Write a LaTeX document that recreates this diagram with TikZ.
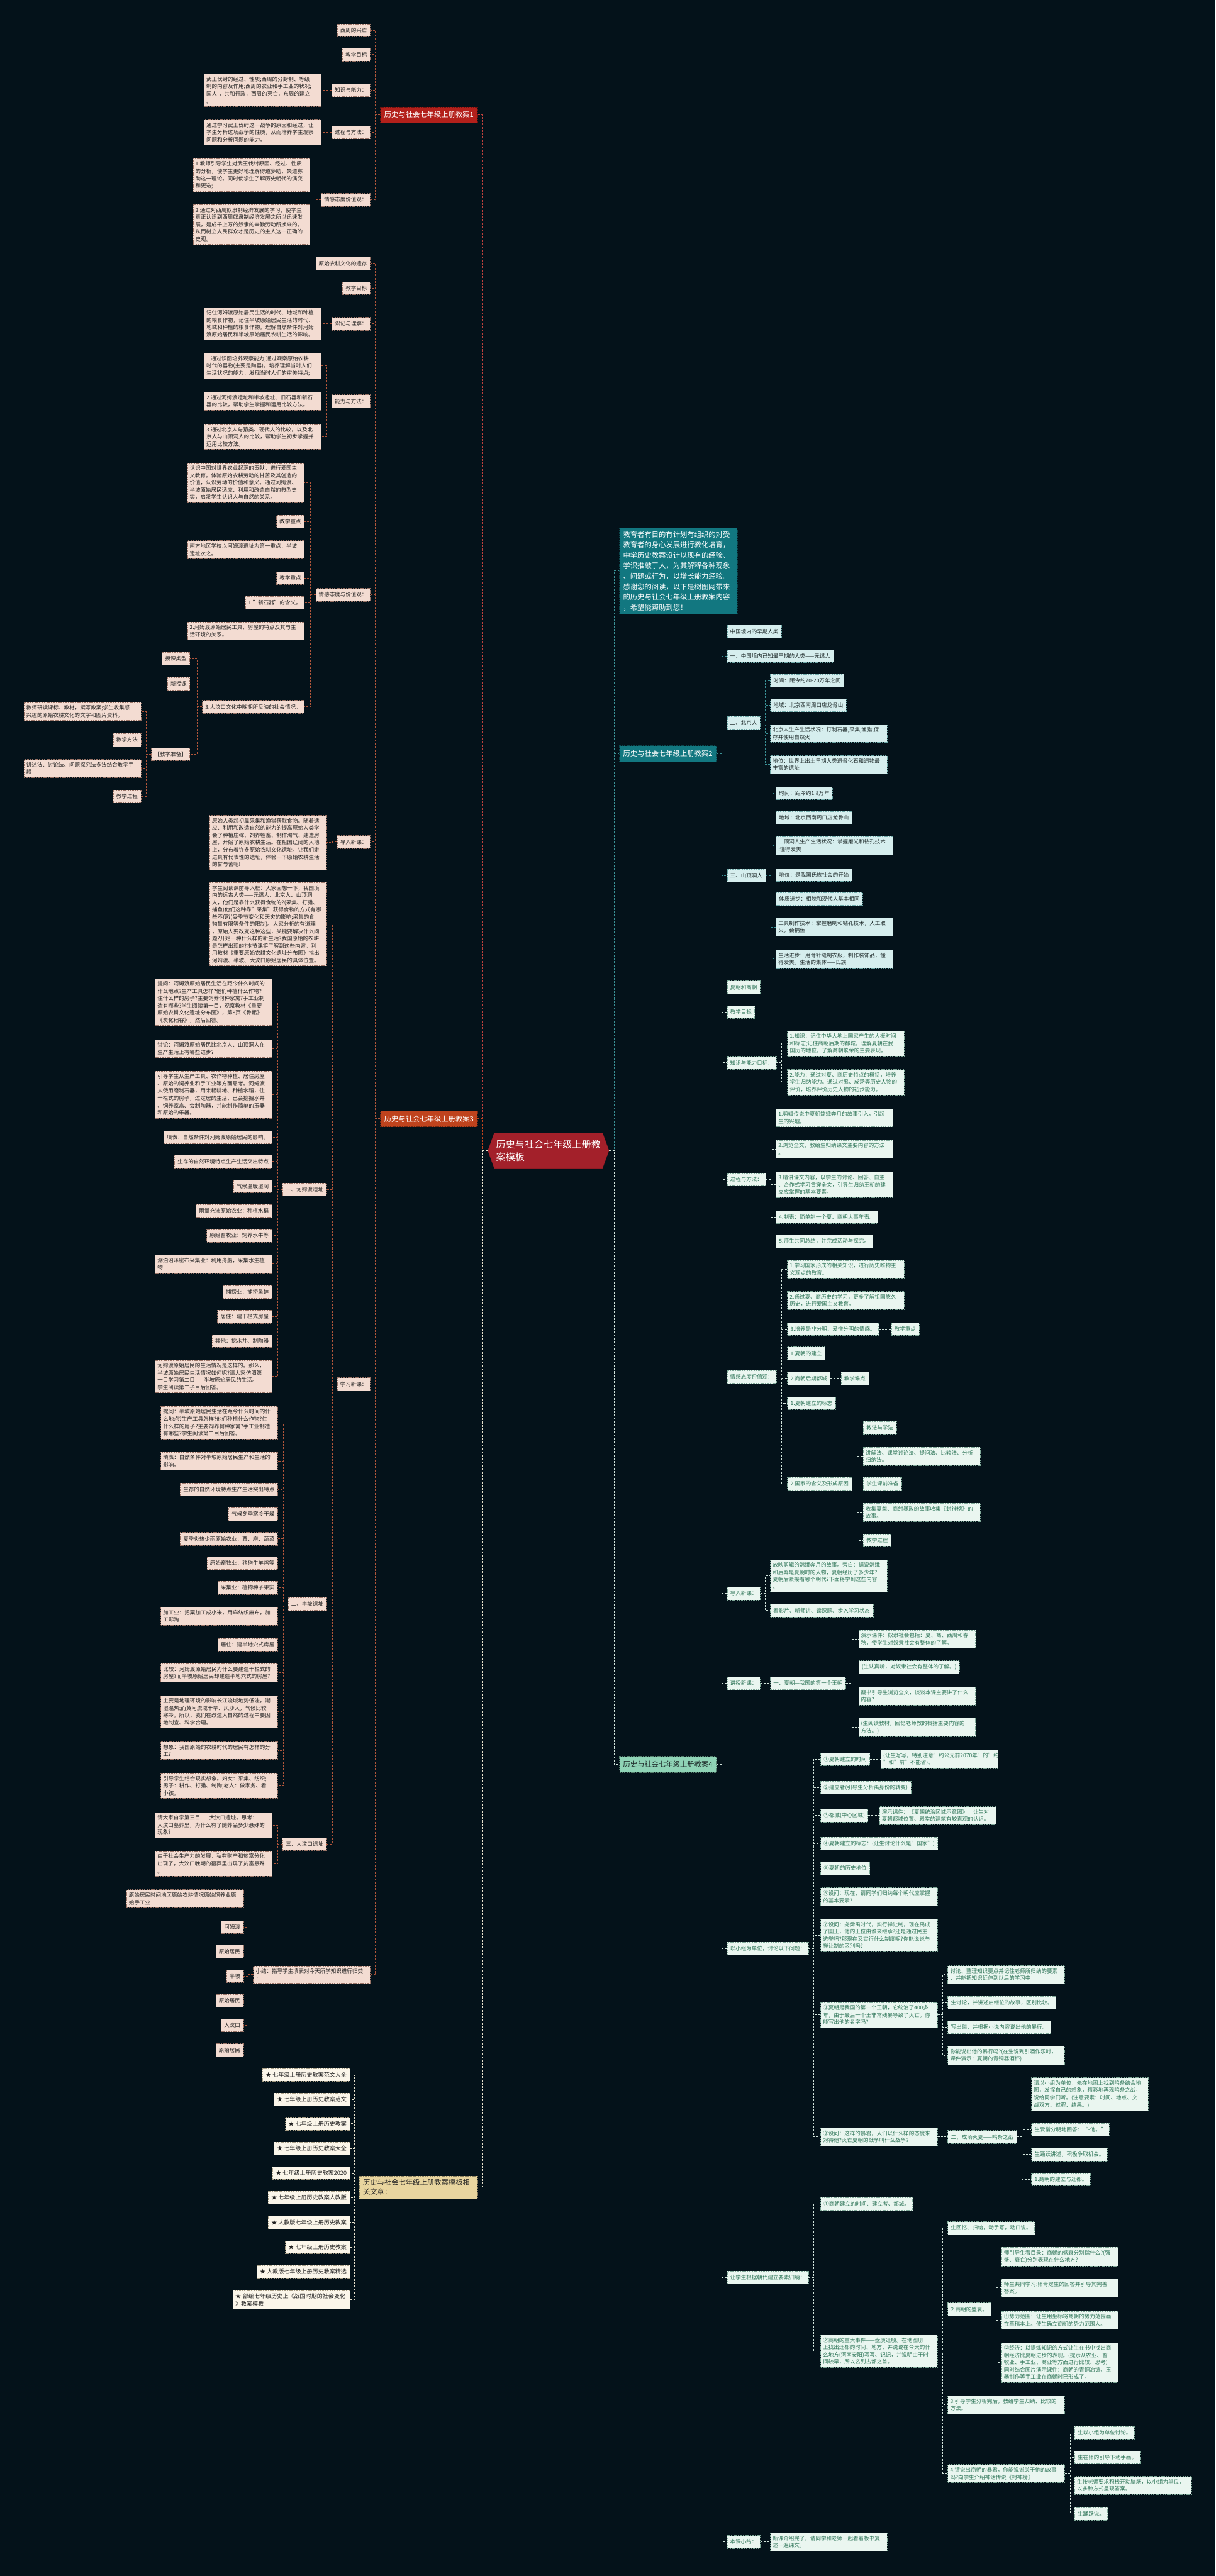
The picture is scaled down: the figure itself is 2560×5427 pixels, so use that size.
\documentclass[tikz,border=0pt]{standalone}
\usepackage{fontspec}
\setmainfont{Noto Sans CJK SC}
\usetikzlibrary{shapes.symbols}
\definecolor{bg}{HTML}{04121A}
\definecolor{lfill}{HTML}{F3DCD2}
\definecolor{lline}{HTML}{9A7467}
\definecolor{ltxt}{HTML}{222222}
\definecolor{lconn}{HTML}{B0553A}
\definecolor{redA}{HTML}{B3201B}
\definecolor{redB}{HTML}{BF431D}
\definecolor{ctr}{HTML}{A3202A}
\definecolor{tealA}{HTML}{127780}
\definecolor{tfill}{HTML}{D6EEEE}
\definecolor{tline}{HTML}{6FA9A9}
\definecolor{ttxt}{HTML}{1E2A2A}
\definecolor{tconn}{HTML}{3B9196}
\definecolor{mintA}{HTML}{8FD3B6}
\definecolor{gfill}{HTML}{EAF6F0}
\definecolor{gline}{HTML}{7FA898}
\definecolor{gtext}{HTML}{2E7558}
\definecolor{gconn}{HTML}{D0E2DA}
\definecolor{khaki}{HTML}{E8D59F}
\definecolor{cream}{HTML}{FBF6EA}
\definecolor{cline}{HTML}{A89E86}
\definecolor{wconn}{HTML}{E6E0CC}
\tikzset{
  base/.style={font=\fontsize{11.3}{15.3}\selectfont, inner xsep=6.5pt, inner ysep=6pt, minimum height=27pt, align=left, line width=0.8pt, dash pattern=on 3pt off 2pt},
  L/.style={base, fill=lfill, draw=lline, text=ltxt, anchor=east},
  T/.style={base, fill=tfill, draw=tline, text=ttxt, anchor=west},
  G/.style={base, fill=gfill, draw=gline, text=gtext, anchor=west},
  C/.style={base, font=\fontsize{12}{16}\selectfont, fill=cream, draw=cline, text=ltxt, anchor=east},
  W/.style={text width=236pt, inner xsep=5pt},
  lvl/.style={font=\fontsize{15}{20}\selectfont, inner xsep=8pt, inner ysep=7pt, minimum height=34pt, align=left, line width=0.8pt, dash pattern=on 3pt off 2pt},
  cL/.style={draw=lconn, line width=1.3pt, dash pattern=on 4pt off 3pt},
  cR1/.style={draw=redA!85!white, line width=1.3pt, dash pattern=on 4pt off 3pt},
  cR3/.style={draw=redB, line width=1.3pt, dash pattern=on 4pt off 3pt},
  cW/.style={draw=wconn, line width=1.3pt, dash pattern=on 4pt off 3pt},
  cT/.style={draw=tconn, line width=1.3pt, dash pattern=on 4pt off 3pt},
  cG/.style={draw=gconn, line width=1.3pt, dash pattern=on 4pt off 3pt},
}
\newcommand{\brL}[3]{\foreach \kid in {#3}{\draw[#1] (#2.west) -- ++(-10,0) |- (\kid.east);}}
\newcommand{\brR}[3]{\foreach \kid in {#3}{\draw[#1] (#2.east) -- ++(11,0) |- (\kid.west);}}
\begin{document}
\begin{tikzpicture}[x=1pt,y=-1pt]
\fill[bg] (0,0) rectangle (2560,5427);
\useasboundingbox (0,0) rectangle (2560,5427);

% ===== center =====
\node[signal, signal to=west and east, signal pointer angle=140, fill=ctr, draw=ctr!70!black, text=white, font=\fontsize{20}{26}\selectfont, align=left, minimum height=75pt, inner xsep=4pt] (cn) at (1155,2424) {历史与社会七年级上册教\\案模板};

% ===== 教案1 =====
\node[lvl, fill=redA, draw=redA!60!black, text=white, anchor=east] (k1) at (1006,242) {历史与社会七年级上册教案1};
\node[L] (a1) at (780,64) {西周的兴亡};
\node[L] (a2) at (780,115) {教学目标};
\node[L] (a3) at (780,190) {知识与能力：};
\node[L,W] (a3l) at (676,190) {武王伐纣的经过、性质;西周的分封制、等级\\制的内容及作用;西周的农业和手工业的状况;\\国人-，共和行政，西周的灭亡，东周的建立\\。};
\node[L] (a4) at (780,279) {过程与方法：};
\node[L,W] (a4l) at (676,279) {通过学习武王伐纣这一战争的原因和经过，让\\学生分析这场战争的性质，从而培养学生观察\\问题和分析问题的能力。};
\node[L] (a5) at (780,421) {情感态度价值观：};
\node[L,W] (a5x) at (653,369) {1.教师引导学生对武王伐纣原因、经过、性质\\的分析，使学生更好地理解得道多助，失道寡\\助这一理论。同时使学生了解历史朝代的演变\\和更迭;};
\node[L,W] (a5y) at (653,473) {2.通过对西周奴隶制经济发展的学习，使学生\\真正认识到西周奴隶制经济发展之所以迅速发\\展，是成千上万的奴隶的辛勤劳动所换来的。\\从而树立人民群众才是历史的主人这一正确的\\史观。};

% ===== 教案3 =====
\node[lvl, fill=redB, draw=redB!60!black, text=white, anchor=east] (k3) at (1006,2357) {历史与社会七年级上册教案3};
\node[L] (b1) at (780,555) {原始农耕文化的遗存};
\node[L] (b2) at (780,607) {教学目标};
\node[L] (b3) at (780,682) {识记与理解：};
\node[L,W] (b3l) at (676,682) {记住河姆渡原始居民生活的时代、地域和种植\\的粮食作物，记住半坡原始居民生活的时代、\\地域和种植的粮食作物。理解自然条件对河姆\\渡原始居民和半坡原始居民农耕生活的影响。};
\node[L] (b4) at (780,845) {能力与方法：};
\node[L,W] (b4x) at (676,771) {1.通过识图培养观察能力;通过观察原始农耕\\时代的器物(主要是陶器)，培养理解当时人们\\生活状况的能力，发现当时人们的审美特点;};
\node[L,W] (b4y) at (676,845) {2.通过河姆渡遗址和半坡遗址、旧石器和新石\\器的比较，帮助学生掌握和运用比较方法。};
\node[L,W] (b4z) at (676,920) {3.通过北京人与猿类、现代人的比较，以及北\\京人与山顶洞人的比较，帮助学生初步掌握并\\运用比较方法。};
\node[L] (b5) at (780,1253) {情感态度与价值观：};
\node[L,W] (b5c1) at (641,1017) {认识中国对世界农业起源的贡献，进行爱国主\\义教育。体验原始农耕劳动的甘苦及其创造的\\价值，认识劳动的价值和意义。通过河姆渡、\\半坡原始居民适应、利用和改造自然的典型史\\实，启发学生认识人与自然的关系。};
\node[L] (b5c2) at (641,1099) {教学重点};
\node[L,W] (b5c3) at (641,1158) {南方地区学校以河姆渡遗址为第一重点，半坡\\遗址次之。};
\node[L] (b5c4) at (641,1218) {教学重点};
\node[L] (b5c5) at (641,1270) {1."新石器"的含义。};
\node[L,W] (b5c6) at (641,1329) {2.河姆渡原始居民工具、房屋的特点及其与生\\活环境的关系。};
\node[L] (b5c7) at (641,1489) {3.大汶口文化中晚期所反映的社会情况。};
\node[L] (d1) at (400,1388) {授课类型};
\node[L] (d2) at (400,1441) {新授课};
\node[L] (d3) at (400,1589) {【教学准备】};
\node[L,W] (e1) at (297,1499) {教师研读课标、教材，撰写教案;学生收集感\\兴趣的原始农耕文化的文字和图片资料。};
\node[L] (e2) at (297,1559) {教学方法};
\node[L,W] (e3) at (297,1619) {讲述法、讨论法、问题探究法多法结合教学手\\段};
\node[L] (e4) at (297,1678) {教学过程};
\node[L] (b6) at (780,1774) {导入新课：};
\node[L,W] (b6l) at (688,1775) {原始人类起初靠采集和渔猎获取食物。随着适\\应、利用和改造自然的能力的提高原始人类学\\会了种植庄稼、饲养牲畜、制作淘气、建造房\\屋，开始了原始农耕生活。在祖国辽阔的大地\\上，分布着许多原始农耕文化遗址。让我们走\\进具有代表性的遗址，体验一下原始农耕生活\\的甘与苦吧!};
\node[L] (b7) at (780,2916) {学习新课：};
\node[L,W] (f1) at (688,1947) {学生阅读课前导入框：大家回想一下，我国境\\内的远古人类——元谋人、北京人、山顶洞\\人，他们是靠什么获得食物的?(采集、打猎、\\捕鱼)他们这种靠"采集"获得食物的方式有哪\\些不便?(受季节变化和天灾的影响;采集的食\\物量有限等条件的限制)。大家分析的有道理\\，原始人要改变这种这些，关键要解决什么问\\题?开始一种什么样的新生活?我国原始的农耕\\是怎样出现的?本节课将了解到这些内容。利\\用教材《重要原始农耕文化遗址分布图》指出\\河姆渡、半坡、大汶口原始居民的具体位置。};
\node[L] (f2) at (688,2506) {一、河姆渡遗址};
\node[L] (f3) at (688,3379) {二、半坡遗址};
\node[L] (f4) at (688,3885) {三、大汶口遗址};
\node[L,W] (f2c1) at (573,2111) {提问：河姆渡原始居民生活在距今什么时间的\\什么地点?生产工具怎样?他们种植什么作物?\\住什么样的房子?主要饲养何种家禽?手工业制\\造有哪些?学生阅读第一目，观察教材《重要\\原始农耕文化遗址分布图》，第8页《骨耜》\\《炭化稻谷》，然后回答。};
\node[L,W] (f2c2) at (573,2209) {讨论：河姆渡原始居民比北京人、山顶洞人在\\生产生活上有哪些进步?};
\node[L,W] (f2c3) at (573,2306) {引导学生从生产工具、农作物种植、居住房屋\\、原始的饲养业和手工业等方面思考。河姆渡\\人使用磨制石器，用耒耜耕地、种植水稻，住\\干栏式的房子，过定居的生活，已会挖掘水井\\、饲养家禽、会制陶器，并能制作简单的玉器\\和原始的乐器。};
\node[L] (f2c4) at (573,2396) {填表：自然条件对河姆渡原始居民的影响。};
\node[L] (f2c5) at (573,2447) {生存的自然环境特点生产生活突出特点};
\node[L] (f2c6) at (573,2499) {气候温暖湿润};
\node[L] (f2c7) at (573,2551) {雨量充沛原始农业：种植水稻};
\node[L] (f2c8) at (573,2603) {原始畜牧业：饲养水牛等};
\node[L,W] (f2c9) at (573,2663) {湖泊沼泽密布采集业：利用舟船，采集水生植\\物};
\node[L] (f2c10) at (573,2722) {捕捞业：捕捞鱼蚌};
\node[L] (f2c11) at (573,2774) {居住：建干栏式房屋};
\node[L] (f2c12) at (573,2825) {其他：挖水井、制陶器};
\node[L,W] (f2c13) at (573,2900) {河姆渡原始居民的生活情况是这样的。那么，\\半坡原始居民生活情况如何呢?请大家仿照第\\一目学习第二目——半坡原始居民的生活。\\学生阅读第二子目后回答。};
\node[L,W] (f3c1) at (585,2997) {提问：半坡原始居民生活在距今什么时间的什\\么地点?生产工具怎样?他们种植什么作物?住\\什么样的房子?主要饲养何种家禽?手工业制造\\有哪些?学生阅读第二目后回答。};
\node[L,W] (f3c2) at (585,3078) {填表：自然条件对半坡原始居民生产和生活的\\影响。};
\node[L] (f3c3) at (585,3138) {生存的自然环境特点生产生活突出特点};
\node[L] (f3c4) at (585,3190) {气候冬季寒冷干燥};
\node[L] (f3c5) at (585,3242) {夏季炎热少雨原始农业：粟、麻、蔬菜};
\node[L] (f3c6) at (585,3293) {原始畜牧业：猪狗牛羊鸡等};
\node[L] (f3c7) at (585,3345) {采集业：植物种子果实};
\node[L,W] (f3c8) at (585,3405) {加工业：把粟加工成小米，用麻纺织麻布，加\\工彩淘};
\node[L] (f3c9) at (585,3465) {居住：建半地穴式房屋};
\node[L,W] (f3c10) at (585,3524) {比较：河姆渡原始居民为什么要建造干栏式的\\房屋?而半坡原始居民却建造半地穴式的房屋?};
\node[L,W] (f3c11) at (585,3606) {主要是地理环境的影响长江流域地势低洼，潮\\湿温热;而黄河流域干旱、风沙大，气候比较\\寒冷。所以，我们在改造大自然的过程中要因\\地制宜、科学合理。};
\node[L,W] (f3c12) at (585,3688) {想象：我国原始的农耕时代的居民有怎样的分\\工?};
\node[L,W] (f3c13) at (585,3762) {引导学生结合现实想象。妇女：采集、纺织;\\男子：耕作、打猎、制陶;老人：做家务、看\\小孩。};
\node[L,W] (f4c1) at (573,3845) {请大家自学第三目——大汶口遗址。思考：\\大汶口墓葬里，为什么有了随葬品多少悬殊的\\现象?};
\node[L,W] (f4c2) at (573,3926) {由于社会生产力的发展，私有财产和贫富分化\\出现了，大汶口晚期的墓葬里出现了贫富悬殊\\。};
\node[L,W] (b8) at (780,4160) {小结：指导学生填表对今天所学知识进行归类\\：};
\node[L,W] (b8c1) at (513,4000) {原始居民时间地区原始农耕情况原始饲养业原\\始手工业};
\node[L] (b8c2) at (513,4060) {河姆渡};
\node[L] (b8c3) at (513,4111) {原始居民};
\node[L] (b8c4) at (513,4163) {半坡};
\node[L] (b8c5) at (513,4215) {原始居民};
\node[L] (b8c6) at (513,4267) {大汶口};
\node[L] (b8c7) at (513,4319) {原始居民};

% ===== 相关文章 =====
\node[lvl, fill=khaki, draw=khaki!60!black, text=ltxt, anchor=east, text width=233pt] (rel) at (1006,4608) {历史与社会七年级上册教案模板相\\关文章：};
\node[C] (r1) at (737,4371) {★ 七年级上册历史教案范文大全};
\node[C] (r2) at (737,4423) {★ 七年级上册历史教案范文};
\node[C] (r3) at (737,4474) {★ 七年级上册历史教案};
\node[C] (r4) at (737,4526) {★ 七年级上册历史教案大全};
\node[C] (r5) at (737,4578) {★ 七年级上册历史教案2020};
\node[C] (r6) at (737,4630) {★ 七年级上册历史教案人教版};
\node[C] (r7) at (737,4682) {★ 人教版七年级上册历史教案};
\node[C] (r8) at (737,4734) {★ 七年级上册历史教案};
\node[C] (r9) at (737,4786) {★ 人教版七年级上册历史教案精选};
\node[C,W] (r10) at (737,4845) {★ 部编七年级历史上《战国时期的社会变化\\》教案模板};

% ===== intro =====
\node[lvl, fill=tealA, draw=tealA!60!black, text=white, anchor=west, text width=233pt, font=\fontsize{15}{22}\selectfont] (intro) at (1304,1203) {教育者有目的有计划有组织的对受\\教育者的身心发展进行教化培育，\\中学历史教案设计以现有的经验、\\学识推敲于人，为其解释各种现象\\、问题或行为，以增长能力经验。\\感谢您的阅读，以下是树图网带来\\的历史与社会七年级上册教案内容\\，希望能帮助到您！};

% ===== 教案2 =====
\node[lvl, fill=tealA, draw=tealA!60!black, text=white, anchor=west] (k2) at (1304,1588) {历史与社会七年级上册教案2};
\node[T] (g1) at (1531,1330) {中国境内的早期人类};
\node[T] (g2) at (1531,1382) {一、中国境内已知最早期的人类——元谋人};
\node[T] (g3) at (1531,1523) {二、北京人};
\node[T] (g4) at (1531,1845) {三、山顶洞人};
\node[T] (g3c1) at (1622,1434) {时间：距今约70-20万年之间};
\node[T] (g3c2) at (1622,1486) {地域：北京西南周口店龙骨山};
\node[T,W] (g3c3) at (1622,1545) {北京人生产生活状况：打制石器,采集,渔猎,保\\存并使用自然火};
\node[T,W] (g3c4) at (1622,1611) {地位：世界上出土早期人类遗骨化石和遗物最\\丰富的遗址};
\node[T] (g4c1) at (1634,1671) {时间：距今约1.8万年};
\node[T] (g4c2) at (1634,1723) {地域：北京西南周口店龙骨山};
\node[T,W] (g4c3) at (1634,1782) {山顶洞人生产生活状况：掌握磨光和钻孔技术\\;懂得爱美};
\node[T] (g4c4) at (1634,1843) {地位：是我国氏族社会的开始};
\node[T] (g4c5) at (1634,1894) {体质进步：相貌和现代人基本相同};
\node[T,W] (g4c6) at (1634,1953) {工具制作技术：掌握磨制和钻孔技术，人工取\\火，会捕鱼};
\node[T,W] (g4c7) at (1634,2020) {生活进步：用骨针缝制衣服，制作装饰品，懂\\得爱美。生活的集体——氏族};

% ===== 教案4 =====
\node[lvl, fill=mintA, draw=mintA!60!black, text=ttxt, anchor=west] (k4) at (1304,3717) {历史与社会七年级上册教案4};
\node[G] (h1) at (1531,2080) {夏朝和商朝};
\node[G] (h2) at (1531,2132) {教学目标};
\node[G] (h3) at (1531,2239) {知识与能力目标：};
\node[G,W] (h3a) at (1658,2198) {1.知识：记住中华大地上国家产生的大概时间\\和标志;记住商朝后期的都城。理解夏朝在我\\国历的地位。了解商朝繁荣的主要表现。};
\node[G,W] (h3b) at (1658,2280) {2.能力：通过对夏、商历史特点的概括，培养\\学生归纳能力。通过对禹、成汤等历史人物的\\评价，培养评价历史人物的初步能力。};
\node[G] (h4) at (1531,2485) {过程与方法：};
\node[G,W] (h4a) at (1634,2355) {1.剪辑传说中夏朝嫦娥奔月的故事引入，引起\\生的兴趣。};
\node[G,W] (h4b) at (1634,2421) {2.浏览全文，教给生归纳课文主要内容的方法\\。};
\node[G,W] (h4c) at (1634,2496) {3.精讲课文内容，以学生的讨论、回答、自主\\、合作式学习贯穿全文，引导生归纳王朝的建\\立应掌握的基本要素。};
\node[G] (h4d) at (1634,2564) {4.制表：简单制一个夏、商朝大事年表。};
\node[G] (h4e) at (1634,2615) {5.师生共同总结，并完成活动与探究。};
\node[G] (h5) at (1531,2901) {情感态度价值观：};
\node[G,W] (h5a) at (1658,2674) {1.学习国家形成的相关知识，进行历史唯物主\\义观点的教育。};
\node[G,W] (h5b) at (1658,2740) {2.通过夏、商历史的学习，更多了解祖国悠久\\历史，进行爱国主义教育。};
\node[G] (h5c) at (1658,2800) {3.培养是非分明、爱憎分明的情感。};
\node[G] (h5cz) at (1877,2800) {教学重点};
\node[G] (h5d) at (1658,2851) {1.夏朝的建立};
\node[G] (h5e) at (1658,2904) {2.商朝后期都城};
\node[G] (h5en) at (1771,2904) {教学难点};
\node[G] (h5f) at (1658,2956) {1.夏朝建立的标志};
\node[G] (h5g) at (1658,3126) {2.国家的含义及形成原因};
\node[G] (q1) at (1818,3008) {教法与学法};
\node[G,W] (q2) at (1818,3068) {讲解法、课堂讨论法、提问法、比较法、分析\\归纳法。};
\node[G] (q3) at (1818,3126) {学生课前准备};
\node[G,W] (q4) at (1818,3186) {收集夏桀、商纣暴政的故事收集《封神榜》的\\故事。};
\node[G] (q5) at (1818,3245) {教学过程};
\node[G] (h6) at (1531,3357) {导入新课：};
\node[G,W] (h6a) at (1622,3320) {放映剪辑的嫦娥奔月的故事。旁白：据说嫦娥\\和后羿是夏朝时的人物，夏朝经历了多少年?\\夏朝后紧接着哪个朝代?下面将学到这些内容\\。};
\node[G] (h6b) at (1622,3393) {看影片、听师讲、读课题、步入学习状态};
\node[G] (h7) at (1531,3546) {讲授新课：};
\node[G] (h7a) at (1622,3546) {一、夏朝—我国的第一个王朝};
\node[G,W] (p1) at (1808,3453) {演示课件：奴隶社会包括：夏、商、西周和春\\秋，使学生对奴隶社会有整体的了解。};
\node[G] (p2) at (1808,3512) {(生认真听，对奴隶社会有整体的了解。)};
\node[G,W] (p3) at (1808,3573) {翻书引导生浏览全文，谈谈本课主要讲了什么\\内容?};
\node[G,W] (p4) at (1808,3639) {(生阅读教材，回忆老师教的概括主要内容的\\方法。)};
\node[G] (h8) at (1531,4105) {以小组为单位，讨论以下问题：};
\node[G] (m1) at (1728,3706) {①夏朝建立的时间};
\node[G,W] (m1x) at (1855,3706) {(让生写写，特别注意"约公元前2070年"的"约\\"和"前"不能省)。};
\node[G] (m2) at (1728,3766) {②建立者(引导生分析禹身份的转变)};
\node[G] (m3) at (1728,3825) {③都城(中心区域)};
\node[G,W] (m3x) at (1852,3825) {演示课件：《夏朝统治区域示意图》，让生对\\夏朝都城位置、殿堂的建筑有较直观的认识。};
\node[G] (m4) at (1728,3884) {④夏朝建立的标志：(让生讨论什么是"国家")};
\node[G] (m5) at (1728,3936) {⑤夏朝的历史地位};
\node[G,W] (m6) at (1728,3996) {⑥设问：现在，请同学们归纳每个朝代应掌握\\的基本要素?};
\node[G,W] (m7) at (1728,4077) {⑦设问：尧舜禹时代，实行禅让制，现在禹成\\了国王，他的王位由谁来继承?还是通过民主\\选举吗?那现在又实行什么制度呢?你能说说与\\禅让制的区别吗?};
\node[G,W] (m8) at (1728,4245) {⑧夏朝是我国的第一个王朝，它统治了400多\\年，由于最后一个王非常残暴导致了灭亡。你\\能写出他的名字吗?};
\node[G,W] (m8a) at (1996,4160) {讨论、整理知识要点并记住老师所归纳的要素\\、并能把知识延伸到以后的学习中};
\node[G] (m8b) at (1996,4219) {生讨论，并讲述启继位的故事，区别比较。};
\node[G] (m8c) at (1996,4271) {写出桀，并根据小说内容说出他的暴行。};
\node[G,W] (m8d) at (1996,4330) {你能说出他的暴行吗?(在生说到引酒作乐时，\\课件演示：夏朝的青铜器酒杯)};
\node[G,W] (m9) at (1728,4502) {⑨设问：这样的暴君，人们以什么样的态度来\\对待他?灭亡夏朝的战争叫什么战争?};
\node[G] (m9x) at (1996,4502) {二、成汤灭夏——鸣条之战};
\node[G,W] (n1) at (2172,4412) {请以小组为单位，先在地图上找到鸣条结合地\\图，发挥自己的想象，精彩地再现鸣条之战，\\说给同学们听。(注意要素：时间、地点、交\\战双方、过程、结果。)};
\node[G] (n2) at (2172,4487) {生爱憎分明地回答：“-他。”};
\node[G] (n3) at (2172,4539) {生踊跃讲述，积极争取机会。};
\node[G] (n4) at (2172,4591) {1.商朝的建立与迁都。};
\node[G] (h9) at (1531,4798) {让学生根据朝代建立要素归纳：};
\node[G] (s1) at (1728,4643) {①商朝建立的时间、建立者、都城。};
\node[G,W] (s2) at (1728,4953) {②商朝的重大事件——盘庚迁殷。在地图册\\上找出迁都的时间、地方，并说说在今天的什\\么地方(河南安阳)写写、记记，并说明由于时\\间较早，所以名列古都之首。};
\node[G] (t1) at (1996,4694) {生回忆、归纳，动手写，动口说。};
\node[G] (t2) at (1996,4865) {2.商朝的盛衰。};
\node[G,W] (t3) at (1996,5066) {3.引导学生分析完后，教给学生归纳、比较的\\方法。};
\node[G,W] (t4) at (1996,5211) {4.请说出商朝的暴君，你能说说关于他的故事\\吗?向学生介绍神话传说《封神榜》};
\node[G,W] (u1) at (2109,4754) {师引导生看目录：商朝的盛衰分别指什么?(强\\盛、衰亡)分别表现在什么地方?};
\node[G,W] (u2) at (2109,4820) {师生共同学习;师肯定生的回答并引导其完善\\答案。};
\node[G,W] (u3) at (2109,4888) {①势力范围：让生用坐标将商朝的势力范围画\\在草稿本上。使生确立商朝的势力范围大。};
\node[G,W] (u4) at (2109,4977) {②经济：以提炼知识的方式让生在书中找出商\\朝经济比夏朝进步的表现。(提示从农业、畜\\牧业、手工业、商业等方面进行比较、思考)\\同时结合图片演示课件：商朝的青铜冶铸、玉\\器制作等手工业在商朝时已形成了。};
\node[G] (v1) at (2263,5125) {生以小组为单位讨论。};
\node[G] (v2) at (2263,5177) {生在师的引导下动手画。};
\node[G,W] (v3) at (2263,5236) {生按老师要求积极开动脑筋，以小组为单位，\\以多种方式呈现答案。};
\node[G] (v4) at (2263,5296) {生踊跃说。};
\node[G] (h10) at (1531,5355) {本课小结：};
\node[G,W] (h10a) at (1622,5355) {新课介绍完了，请同学和老师一起看着板书复\\述一遍课文。};

% ===== connectors =====
\brL{cR1}{cn}{k1}
\brL{cR3}{cn}{k3}
\brL{cW}{cn}{rel}
\brR{cT}{cn}{intro,k2}
\brR{cG}{cn}{k4}

\brL{cL}{k1}{a1,a2,a3,a4,a5}
\brL{cL}{a3}{a3l}
\brL{cL}{a4}{a4l}
\brL{cL}{a5}{a5x,a5y}
\brL{cL}{k3}{b1,b2,b3,b4,b5,b6,b7,b8}
\brL{cL}{b3}{b3l}
\brL{cL}{b4}{b4x,b4y,b4z}
\brL{cL}{b5}{b5c1,b5c2,b5c3,b5c4,b5c5,b5c6,b5c7}
\brL{cL}{b5c7}{d1,d2,d3}
\brL{cL}{d3}{e1,e2,e3,e4}
\brL{cL}{b6}{b6l}
\brL{cL}{b7}{f1,f2,f3,f4}
\brL{cL}{f2}{f2c1,f2c2,f2c3,f2c4,f2c5,f2c6,f2c7,f2c8,f2c9,f2c10,f2c11,f2c12,f2c13}
\brL{cL}{f3}{f3c1,f3c2,f3c3,f3c4,f3c5,f3c6,f3c7,f3c8,f3c9,f3c10,f3c11,f3c12,f3c13}
\brL{cL}{f4}{f4c1,f4c2}
\brL{cL}{b8}{b8c1,b8c2,b8c3,b8c4,b8c5,b8c6,b8c7}
\brL{cW}{rel}{r1,r2,r3,r4,r5,r6,r7,r8,r9,r10}

\brR{cT}{k2}{g1,g2,g3,g4}
\brR{cT}{g3}{g3c1,g3c2,g3c3,g3c4}
\brR{cT}{g4}{g4c1,g4c2,g4c3,g4c4,g4c5,g4c6,g4c7}

\brR{cG}{k4}{h1,h2,h3,h4,h5,h6,h7,h8,h9,h10}
\brR{cG}{h3}{h3a,h3b}
\brR{cG}{h4}{h4a,h4b,h4c,h4d,h4e}
\brR{cG}{h5}{h5a,h5b,h5c,h5d,h5e,h5f,h5g}
\brR{cG}{h5c}{h5cz}
\brR{cG}{h5e}{h5en}
\brR{cG}{h5g}{q1,q2,q3,q4,q5}
\brR{cG}{h6}{h6a,h6b}
\brR{cG}{h7}{h7a}
\brR{cG}{h7a}{p1,p2,p3,p4}
\brR{cG}{h8}{m1,m2,m3,m4,m5,m6,m7,m8,m9}
\brR{cG}{m1}{m1x}
\brR{cG}{m3}{m3x}
\brR{cG}{m8}{m8a,m8b,m8c,m8d}
\brR{cG}{m9}{m9x}
\brR{cG}{m9x}{n1,n2,n3,n4}
\brR{cG}{h9}{s1,s2}
\brR{cG}{s2}{t1,t2,t3,t4}
\brR{cG}{t2}{u1,u2,u3,u4}
\brR{cG}{t4}{v1,v2,v3,v4}
\brR{cG}{h10}{h10a}
\end{tikzpicture}
\end{document}
